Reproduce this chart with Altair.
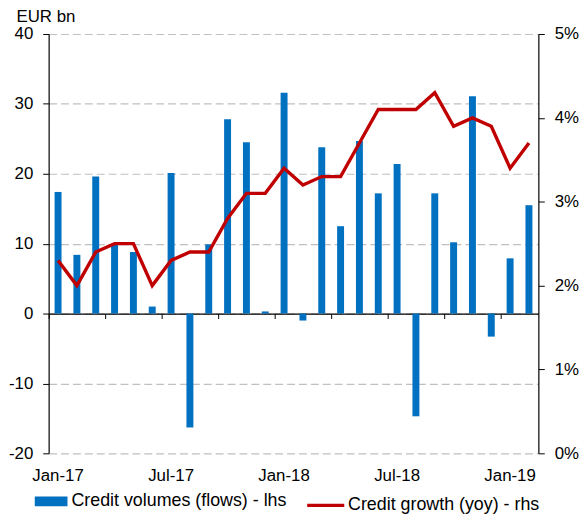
import altair as alt
import pandas as pd

months = ['Jan-17', 'Feb-17', 'Mar-17', 'Apr-17', 'May-17', 'Jun-17', 'Jul-17', 'Aug-17',
          'Sep-17', 'Oct-17', 'Nov-17', 'Dec-17', 'Jan-18', 'Feb-18', 'Mar-18', 'Apr-18',
          'May-18', 'Jun-18', 'Jul-18', 'Aug-18', 'Sep-18', 'Oct-18', 'Nov-18', 'Dec-18',
          'Jan-19', 'Feb-19']
flows = [17.4, 8.4, 19.6, 10.0, 8.8, 1.0, 20.1, -16.3, 9.9, 27.8, 24.5, 0.3,
         31.6, -1.0, 23.8, 12.5, 24.7, 17.2, 21.4, -14.7, 17.2, 10.2, 31.1, -3.3,
         7.9, 15.5]
growth = [2.3, 2.0, 2.4, 2.5, 2.5, 2.0, 2.3, 2.4, 2.4, 2.8, 3.1, 3.1,
          3.4, 3.2, 3.3, 3.3, 3.7, 4.1, 4.1, 4.1, 4.3, 3.9, 4.0, 3.9,
          3.4, 3.7]
label_months = ['Jan-17', 'Jul-17', 'Jan-18', 'Jul-18', 'Jan-19']
tick_months = months[::3]
vol_name = 'Credit volumes (flows) - lhs'
gr_name = 'Credit growth (yoy) - rhs'

df = pd.DataFrame({'month': months, 'flows': flows, 'growth': growth,
                   'vol': vol_name, 'gr': gr_name})

W, H = 494, 423
FONT = 'Liberation Sans'
AX = 17
xscale = alt.Scale(paddingInner=0, paddingOuter=0)

bars = alt.Chart(df).mark_bar(size=7, color='#0070C0').encode(
    x=alt.X('month:O', sort=months, scale=xscale,
            axis=alt.Axis(title=None, values=label_months, labelAngle=0, domain=False,
                          ticks=False, labelPadding=14, labelFontSize=AX, labelFont=FONT,
                          labelColor='black')),
    y=alt.Y('flows:Q', scale=alt.Scale(domain=[-20, 40], nice=False),
            axis=alt.Axis(title='EUR bn', titleAngle=0, titleAlign='left', titleX=-33,
                          titleY=-18, titleBaseline='middle', titleFontWeight='normal',
                          titleFontSize=AX, titleFont=FONT, titleColor='black',
                          values=[-20, -10, 0, 10, 20, 30, 40], grid=True,
                          labelExpr="'' + datum.value",
                          gridColor='#C0C0C0', gridDash=[8, 4], gridWidth=1.2,
                          domainColor='black', tickColor='black', tickSize=6,
                          labelFontSize=AX, labelFont=FONT, labelColor='black',
                          labelPadding=10)),
    color=alt.Color('vol:N', scale=alt.Scale(domain=[vol_name], range=['#0070C0']),
                    legend=alt.Legend(title=None, orient='none', legendX=-14, legendY=455,
                                      symbolType='M-1,-0.3H1V0.3H-1Z', symbolSize=1089,
                                      symbolStrokeWidth=0, labelFontSize=18, labelFont=FONT,
                                      labelColor='black', labelOffset=4, padding=0,
                                      labelLimit=400)),
)

line = alt.Chart(df).mark_line(strokeWidth=3.4, color='#C00000').encode(
    x=alt.X('month:O', sort=months, scale=xscale,
            axis=alt.Axis(title=None, orient='bottom', values=tick_months, labels=False,
                          bandPosition=0, domainColor='black', tickColor='black',
                          tickSize=5, offset=-(H * 20 / 60), grid=False)),
    y=alt.Y('growth:Q', scale=alt.Scale(domain=[0, 5], nice=False),
            axis=alt.Axis(title=None, orient='right', values=[0, 1, 2, 3, 4, 5],
                          labelExpr="datum.value + '%'", grid=False,
                          domainColor='black', tickColor='black', tickSize=6,
                          labelFontSize=AX, labelFont=FONT, labelColor='black',
                          labelPadding=10)),
    stroke=alt.Stroke('gr:N', scale=alt.Scale(domain=[gr_name], range=['#C00000']),
                      legend=alt.Legend(title=None, orient='none', legendX=259, legendY=455,
                                        symbolType='stroke', symbolSize=1400,
                                        symbolStrokeWidth=3.5, labelFontSize=18,
                                        labelFont=FONT, labelColor='black', labelOffset=2,
                                        padding=0, labelLimit=400)),
)

chart = alt.layer(bars, line).resolve_scale(
    y='independent', stroke='independent', color='independent'
).resolve_axis(x='independent').properties(
    width=W, height=H, padding={'top': -3, 'left': 0, 'right': 0, 'bottom': 0}
).configure_view(stroke=None).configure_axis(domainWidth=1.2)

chart.save("out.html", embed_options={"renderer": "svg", "actions": False})
